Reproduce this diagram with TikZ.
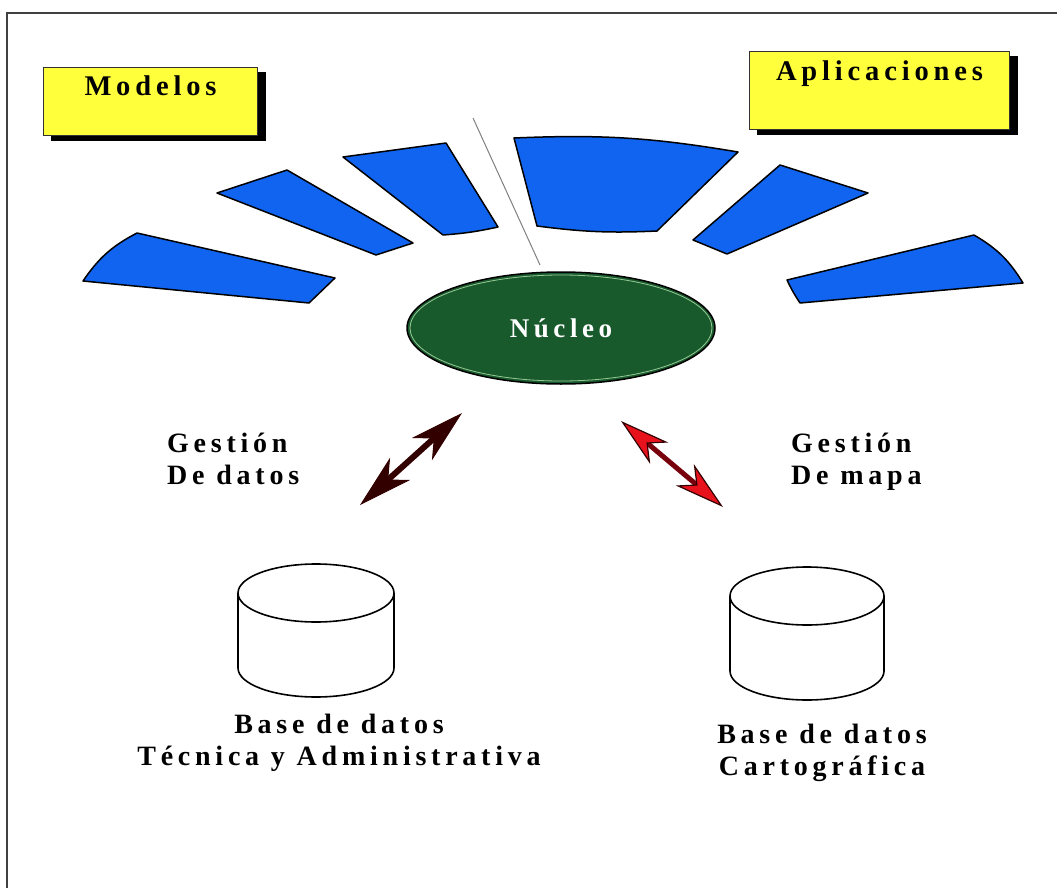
\documentclass[tikz,border=0pt]{standalone}
\usepackage{fontspec}
\newfontfamily\lblfont[LetterSpace=17]{Liberation Serif}
\usepackage{tikz}
\usetikzlibrary{arrows.meta,shadows,shapes.geometric,positioning}
\definecolor{wedgeblue}{RGB}{16,100,240}
\definecolor{nucgreen}{RGB}{24,90,44}
\definecolor{nucrim}{RGB}{150,200,150}
\definecolor{tagyellow}{RGB}{255,255,60}
\definecolor{darkarrow}{RGB}{51,0,0}
\definecolor{arrowred}{RGB}{232,18,28}
\definecolor{redshaft}{RGB}{120,0,12}
\tikzstyle{wedge}=[draw=black,line width=1.5pt,fill=wedgeblue,line join=round]
\tikzstyle{tagbox}=[draw=black!80,line width=1pt,fill=tagyellow,general shadow={fill=black,draw=black,shadow xshift=8pt,shadow yshift=-5pt},font=\lblfont\bfseries\fontsize{28.5}{32}\selectfont,anchor=north west]
\tikzstyle{lbl}=[font=\lblfont\bfseries\fontsize{28}{32}\selectfont,inner sep=0pt]

\begin{document}
\begin{tikzpicture}[x=1pt,y=-1pt,
dbline/.style={draw=black,line width=1.6pt},
bigarrow/.style={line width=6pt,draw=darkarrow,
  {Stealth[length=54pt,width=30pt,inset=16pt,line width=1pt]}-{Stealth[length=54pt,width=30pt,inset=16pt,line width=1pt]}},
redarrow/.style={line width=5pt,draw=redshaft,
  {Stealth[length=50pt,width=28pt,inset=15pt,line width=1.2pt,color=darkarrow,fill=arrowred]}-{Stealth[length=50pt,width=28pt,inset=15pt,line width=1.2pt,color=darkarrow,fill=arrowred]}}]
\useasboundingbox (0,0) rectangle (1057,888);
\fill[white] (0,0) rectangle (1057,888);
\draw[line width=2pt,black!75] (7,888) -- (7,13) -- (1057,13);

\node[tagbox,minimum width=214pt,text height=24pt,text depth=35pt,inner ysep=4.5pt] (modelos) at (43,67) {Modelos};
\node[tagbox,minimum width=260pt,text height=25pt,text depth=45pt,inner ysep=4pt] (aplic) at (749,51) {Aplicaciones};

\draw[wedge] (83,281) to[bend left=14] (137,233) -- (335,278) -- (309,303) -- cycle;
\draw[wedge] (217,193) -- (287,170) -- (413,243) -- (376,255) -- cycle;
\draw[wedge] (343,157) -- (446,143) -- (498,227) to[bend left=4] (443,235) -- cycle;
\draw[wedge] (514,138) to[bend left=6] (738,152) -- (657,231) to[bend left=5] (537,226) -- cycle;
\draw[wedge] (780,165) -- (868,193) -- (727,254) -- (693,240) -- cycle;
\draw[wedge] (787,280) -- (974,235) to[bend left=14] (1023,283) -- (800,303) to[bend left=4] cycle;
\draw[gray,line width=1pt] (473,118) -- (540,265);

\node[ellipse,draw=black,line width=1.5pt,fill=nucgreen,minimum width=308pt,minimum height=112pt,
  text=white,font=\lblfont\bfseries\fontsize{27}{32}\selectfont] (nucleo) at (561,328) {Núcleo};
\draw[nucrim,line width=0.8pt] (nucleo.center) ellipse[x radius=151,y radius=53];

\coordinate (gdA) at (360,505);
\coordinate (gdB) at (462,413);
\coordinate (gmA) at (621,421);
\coordinate (gmB) at (723,507);
\draw[bigarrow] (gdA) -- (gdB);
\draw[redarrow] (gmA) -- (gmB);

\node[lbl,align=left,anchor=north west] (gestDatos) at (167,433) {Gestión\\De datos};
\node[lbl,align=left,anchor=north west] (gestMapa) at (791,433) {Gestión\\De mapa};

\coordinate (dbL) at (316,593);
\coordinate (dbR) at (807,596);
\draw[dbline,fill=white] (dbL) ++(-78,0) -- ++(0,75) arc[start angle=180,end angle=0,x radius=78,y radius=29] -- ++(0,-75);
\draw[dbline] (dbL) ellipse[x radius=78,y radius=29];
\draw[dbline,fill=white] (dbR) ++(-77,0) -- ++(0,75) arc[start angle=180,end angle=0,x radius=77,y radius=29] -- ++(0,-75);
\draw[dbline] (dbR) ellipse[x radius=77,y radius=29];

\node[lbl,align=center,anchor=north] (dbLtxt) at (339,714) {Base de datos\\Técnica y Administrativa};
\node[lbl,align=center,anchor=north] (dbRtxt) at (822,724) {Base de datos\\Cartográfica};
\end{tikzpicture}
\end{document}
